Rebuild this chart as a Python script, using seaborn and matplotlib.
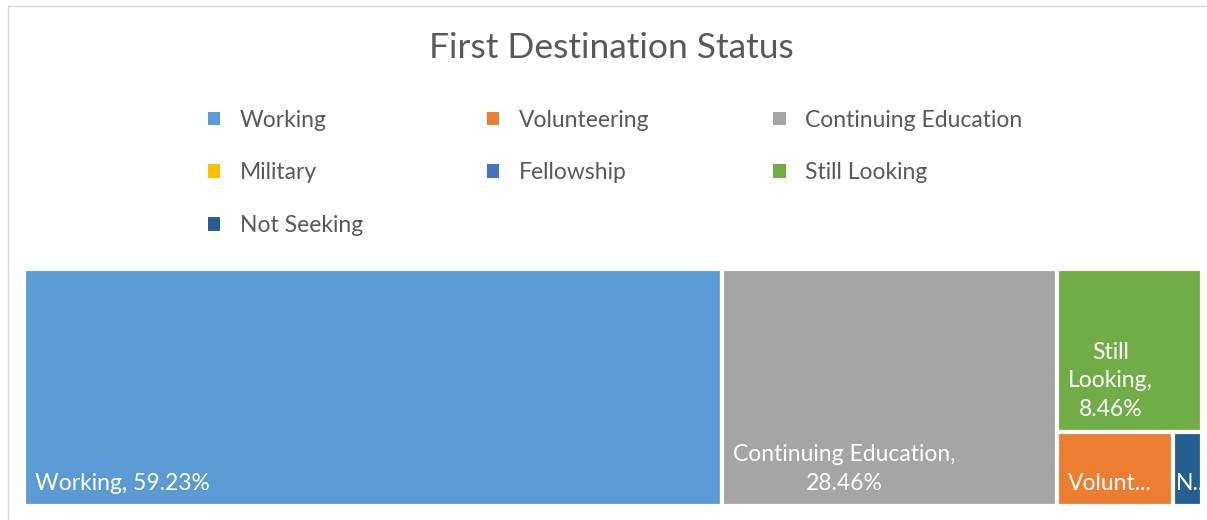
import seaborn as sns
import matplotlib.pyplot as plt
from matplotlib.patches import Rectangle, Patch

# data (percent of graduates)
categories = ["Working", "Volunteering", "Continuing Education", "Military",
              "Fellowship", "Still Looking", "Not Seeking"]
percents = [59.23, 3.08, 28.46, 0.0, 0.0, 8.46, 0.77]
colors = ["#5B9BD5", "#ED7D31", "#A5A5A5", "#FFC000", "#4472C4", "#70AD47", "#255E91"]
# how Excel wrapped / cut the tile labels
tile_text = {
    "Working": "Working, {p}",
    "Continuing Education": "Continuing Education,\n{p}",
    "Still Looking": "Still\nLooking,\n{p}",
    "Volunteering": "Volunt...",
    "Not Seeking": "N...",
}


def worst(row, side):
    s = sum(row)
    return max(max(side * side * r / (s * s), (s * s) / (side * side * r)) for r in row)


def squarify(items, x, y, w, h):
    # items: list of (name, area) sorted descending, areas summing to w*h
    rects = []
    items = list(items)
    while items:
        side = min(w, h)
        row = [items.pop(0)]
        while items and worst([a for _, a in row + [items[0]]], side) <= worst([a for _, a in row], side):
            row.append(items.pop(0))
        s = sum(a for _, a in row)
        if w >= h:
            cw = s / h
            yy = y
            for name, a in row:
                rh = a / cw
                rects.append((name, x, yy, cw, rh))
                yy += rh
            x, w = x + cw, w - cw
        else:
            rh = s / w
            xx = x
            for name, a in row:
                rw = a / rh
                rects.append((name, xx, y, rw, rh))
                xx += rw
            y, h = y + rh, h - rh
    return rects


sns.set_theme(style="white")
plt.rcParams["font.family"] = ["Lato", "DejaVu Sans"]

fig = plt.figure(figsize=(12.07, 5.20), dpi=100)
ax = fig.add_axes([24 / 1207, 1 - 506 / 520, 1178 / 1207, 237 / 520])
W, H = 1178.0, 237.0
ax.set_xlim(0, W)
ax.set_ylim(H, 0)
ax.axis("off")

total = sum(percents)
items = sorted([(c, p / total * W * H) for c, p in zip(categories, percents) if p > 0],
               key=lambda t: -t[1])
color_of = dict(zip(categories, colors))
pct_of = dict(zip(categories, percents))

for name, x0, y0, w, h in squarify(items, 0, 0, W, H):
    tile = Rectangle((x0, y0), w, h, facecolor=color_of[name],
                     edgecolor="white", linewidth=3)
    ax.add_patch(tile)
    label = tile_text[name].format(p=f"{pct_of[name]:.2f}%")
    small = w < 60
    t = ax.text(x0 + (3 if small else 11), y0 + h - 12, label, color="white",
                fontsize=16.5, ha="left", va="bottom", multialignment="center",
                linespacing=1.45)
    t.set_clip_path(tile)

# chart frame
fig.patches.append(Rectangle((8 / 1207, -0.05), 1.1, 1 - 6 / 520 + 0.05,
                             transform=fig.transFigure, fill=False,
                             edgecolor="#D9D9D9", linewidth=1))

fig.text(611 / 1207, 1 - 48 / 520, "First Destination Status", ha="center",
         va="center", fontsize=25.5, color="#595959")

# legend, column-major order so rows read like the original
order = [0, 3, 6, 1, 4, 2, 5]
handles = [Patch(facecolor=colors[i], edgecolor="none", label=categories[i]) for i in order]
fig.legend(handles=handles, ncol=3, frameon=False, loc="upper left",
           bbox_to_anchor=(187 / 1207, 1 - 89 / 520), fontsize=16.5,
           handlelength=0.55, handleheight=0.55, handletextpad=0.85,
           columnspacing=5.4, labelspacing=1.38, labelcolor="#595959")

fig.savefig("out.png", dpi=100, facecolor="white")
